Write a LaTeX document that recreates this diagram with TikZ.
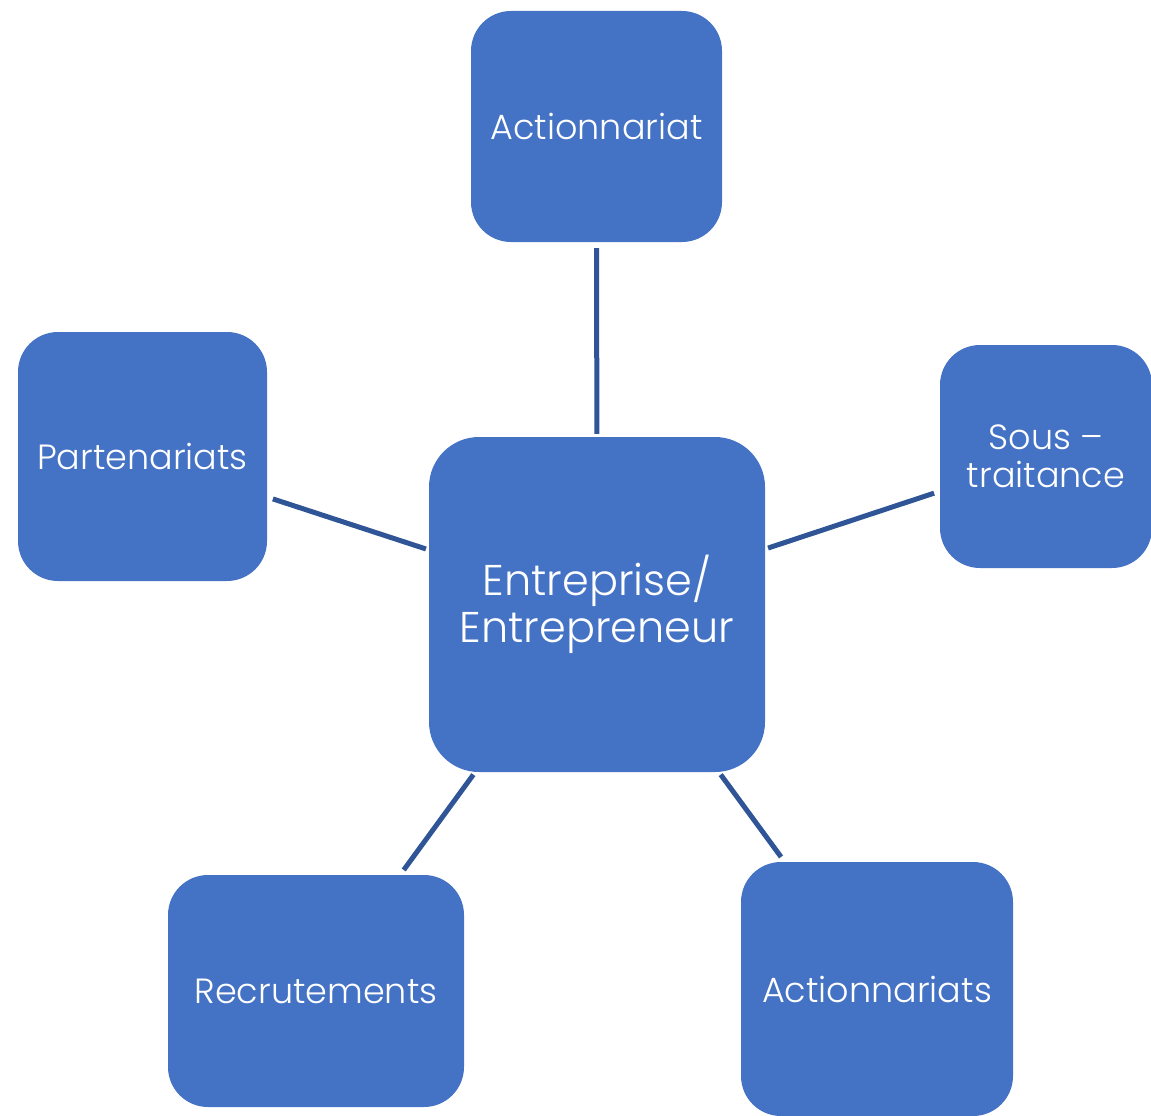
\documentclass[tikz,border=0pt]{standalone}
\usepackage{fontspec}
\setmainfont{Poppins}[UprightFont=* Light]
\definecolor{boxblue}{HTML}{4472C4}
\definecolor{lineblue}{HTML}{2F5597}
\begin{document}
\begin{tikzpicture}[x=1pt,y=-1pt,
  box/.style={rectangle, rounded corners=40pt, fill=boxblue, draw=none,
    text=white, inner sep=0pt, align=center, font=\fontsize{35}{38}\selectfont},
  link/.style={draw=lineblue, line width=5pt, shorten <=3pt, shorten >=6pt}]
\useasboundingbox (0,0) rectangle (1151,1116);
\node[box, minimum width=336pt, minimum height=335pt, rounded corners=50pt,
  font=\fontsize{43}{47}\selectfont] (c) at (597,604.5) {Entreprise/\\Entrepreneur};
\node[box, minimum width=251pt, minimum height=231pt] (t) at (596.5,126.5) {Actionnariat};
\node[box, minimum width=249pt, minimum height=249pt] (l) at (142.5,456.5) {Partenariats};
\node[box, minimum width=212pt, minimum height=223pt] (r) at (1046,456.5) {Sous –\\traitance};
\node[box, minimum width=296pt, minimum height=232pt] (bl) at (316,991) {Recrutements};
\node[box, minimum width=272pt, minimum height=254pt] (br) at (877,989) {Actionnariats};
\draw[link] (c) -- (t);
\draw[link] (c) -- (l);
\draw[link] (c) -- (r);
\draw[link] (c) -- (bl);
\draw[link] (c) -- (br);
\end{tikzpicture}
\end{document}
